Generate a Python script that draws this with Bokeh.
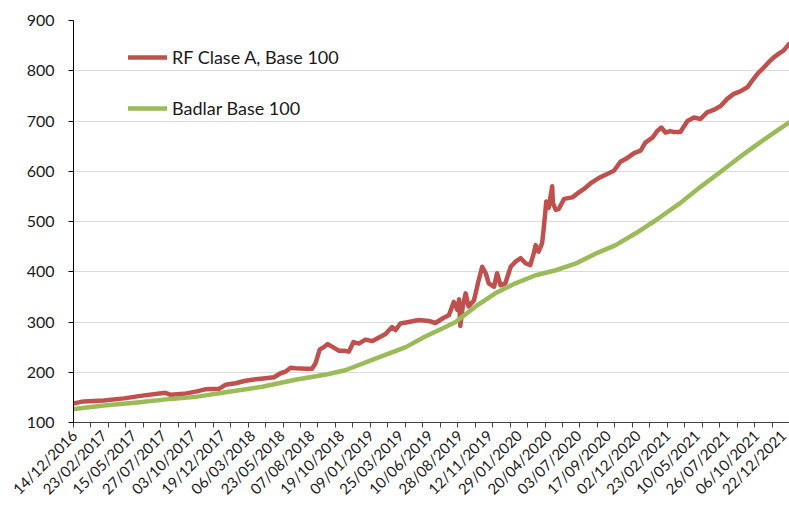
import math
from bokeh.plotting import figure
from bokeh.models import FixedTicker, Range1d, Legend, LegendItem, ColumnDataSource
from bokeh.embed import file_html
from bokeh.resources import INLINE

# ---- data ----
date_labels = ["14/12/2016", "23/02/2017", "15/05/2017", "27/07/2017", "03/10/2017",
               "19/12/2017", "06/03/2018", "23/05/2018", "07/08/2018", "19/10/2018",
               "09/01/2019", "25/03/2019", "10/06/2019", "28/08/2019", "12/11/2019",
               "29/01/2020", "20/04/2020", "03/07/2020", "17/09/2020", "02/12/2020",
               "23/02/2021", "10/05/2021", "26/07/2021", "06/10/2021", "22/12/2021"]
label_step = 50          # trading days between labels
n_days = 1207            # trading days on the axis

rf_day = [0, 16, 50, 84, 118, 154, 163, 185, 207, 221, 244, 255, 272, 289, 306, 323, 337,
          348, 356, 365, 373, 391, 401, 407, 414, 421, 427, 435, 446, 455, 463, 471, 480,
          491, 503, 514, 525, 536, 542, 550, 564, 581, 598, 609, 621, 632, 640, 646, 649,
          651, 655, 660, 665, 674, 682, 688, 694, 699, 708, 713, 719, 727, 736, 744, 753,
          761, 769, 775, 778, 783, 789, 792, 796, 800, 806, 807, 812, 817, 826, 840, 851,
          862, 873, 885, 896, 910, 921, 932, 944, 955, 963, 975, 983, 990, 997, 1005, 1011,
          1022, 1034, 1045, 1056, 1067, 1078, 1090, 1101, 1112, 1123, 1135, 1143, 1152,
          1163, 1171, 1180, 1188, 1196, 1205]
rf_value = [138, 142, 144, 148, 154, 159, 155, 157, 162, 166, 167, 175, 178, 183, 186, 188, 190,
            198, 201, 209, 208, 207, 207, 218, 245, 250, 256, 251, 243, 243, 241, 260, 257,
            265, 262, 269, 276, 290, 284, 297, 300, 304, 302, 298, 307, 314, 340, 324, 345,
            292, 330, 357, 331, 343, 383, 410, 397, 377, 370, 397, 373, 377, 410, 420, 427,
            417, 413, 437, 453, 440, 457, 490, 540, 527, 570, 537, 523, 525, 545, 548, 558,
            567, 578, 587, 593, 601, 619, 626, 636, 641, 657, 667, 680, 687, 677, 680, 678,
            678, 700, 707, 704, 717, 722, 730, 744, 754, 759, 767, 780, 794, 807, 817, 827,
            834, 840, 853]

badlar_day = [0, 50, 106, 163, 205, 261, 317, 373, 427, 457, 508, 559, 592, 626, 643, 677, 710,
              744, 778, 812, 845, 879, 913, 946, 980, 1022, 1056, 1090, 1123, 1157, 1185, 1205]
badlar_value = [127, 134, 140, 147, 151, 161, 171, 185, 196, 204, 227, 250, 271, 290, 300, 331,
                357, 377, 393, 403, 416, 436, 453, 476, 502, 537, 569, 599, 629, 658, 681, 697]

y_ticks = [100, 200, 300, 400, 500, 600, 700, 800, 900]

series_names = ["RF Clase A, Base 100", "Badlar Base 100"]
series_colors = ["#C0504D", "#9BBB59"]

FONT = "Lato"
TXT = "#1a1a1a"

p = figure(width=789, height=508, output_backend="svg", toolbar_location=None,
           x_range=Range1d(-1, n_days - 1), y_range=Range1d(y_ticks[0], y_ticks[-1]),
           min_border_left=73, min_border_right=0, min_border_top=20, min_border_bottom=86)
p.outline_line_color = None
p.background_fill_color = "white"
p.border_fill_color = "white"

src_rf = ColumnDataSource(dict(x=rf_day, y=rf_value))
src_bd = ColumnDataSource(dict(x=badlar_day, y=badlar_value))
r_rf = p.line("x", "y", source=src_rf, line_color=series_colors[0], line_width=4.5,
              line_join="round", line_cap="round")
r_bd = p.line("x", "y", source=src_bd, line_color=series_colors[1], line_width=4.5,
              line_join="round", line_cap="round")

# y axis
p.yaxis.ticker = FixedTicker(ticks=y_ticks)
p.yaxis.axis_line_color = "black"
p.yaxis.major_tick_line_color = "black"
p.yaxis.major_tick_out = 5
p.yaxis.major_tick_in = 0
p.yaxis.minor_tick_line_color = None
p.yaxis.major_label_text_font = FONT
p.yaxis.major_label_text_font_size = "16px"
p.yaxis.major_label_text_color = TXT
p.yaxis.major_label_standoff = 14

# x axis: labels every 50 days, tick marks on their own interval
label_pos = [i * label_step for i in range(len(date_labels))]
n_marks = 41
mark_pos = [-1 + j * (n_days / n_marks) for j in range(n_marks + 1)]
p.xaxis.ticker = FixedTicker(ticks=label_pos, minor_ticks=mark_pos)
p.xaxis.major_label_overrides = {pos: lab for pos, lab in zip(label_pos, date_labels)}
p.xaxis.major_label_orientation = math.pi / 4
p.xaxis.major_tick_out = 0
p.xaxis.major_tick_in = 0
p.xaxis.minor_tick_out = 5
p.xaxis.minor_tick_in = 0
p.xaxis.minor_tick_line_color = "#404040"
p.xaxis.axis_line_color = "#404040"
p.xaxis.major_label_text_font = FONT
p.xaxis.major_label_text_font_size = "15px"
p.xaxis.major_label_text_color = TXT
p.xaxis.major_label_standoff = 5

p.xgrid.grid_line_color = None
p.ygrid.ticker = FixedTicker(ticks=y_ticks)
p.ygrid.grid_line_color = "#D9D9D9"
p.ygrid.grid_line_width = 1

legend = Legend(items=[LegendItem(label=series_names[0], renderers=[r_rf]),
                       LegendItem(label=series_names[1], renderers=[r_bd])],
                location=(55, 303), orientation="vertical")
legend.background_fill_alpha = 0
legend.border_line_color = None
legend.padding = 0
legend.margin = 0
legend.spacing = 29
legend.glyph_width = 39
legend.glyph_height = 20
legend.label_height = 20
legend.label_standoff = 5
legend.label_text_font = FONT
legend.label_text_font_size = "18px"
legend.label_text_color = TXT
p.add_layout(legend)

open("out.html", "w").write(file_html(p, INLINE))
